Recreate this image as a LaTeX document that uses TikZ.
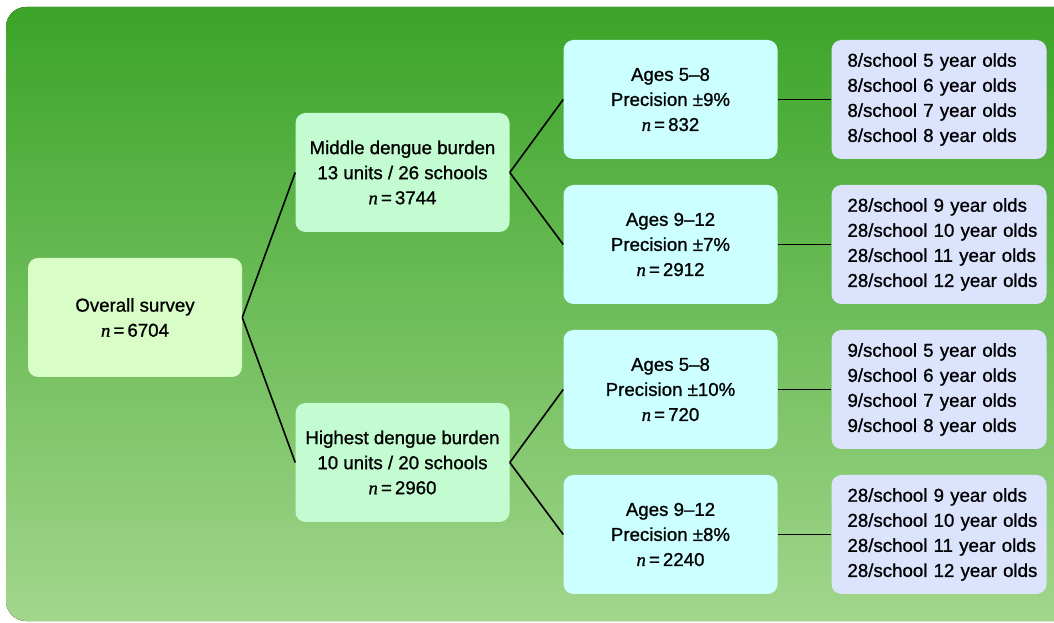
\documentclass[tikz,border=0pt]{standalone}
\usepackage{fontspec}
\usepackage{xcolor}
\usepackage{tikz}
\usetikzlibrary{shapes.geometric, calc}
\setmainfont[FakeBold=1]{Liberation Sans}
\newfontfamily\nserif[FakeBold=1]{Liberation Serif}
\newcommand{\nsize}[1]{{\nserif\itshape n}\,=\,#1}

\definecolor{bgtop}{HTML}{3BA428}
\definecolor{bgbottom}{HTML}{A2D68C}
\definecolor{overallfill}{HTML}{D9FDC7}
\definecolor{burdenfill}{HTML}{C4FCD2}
\definecolor{agesfill}{HTML}{CCFFFF}
\definecolor{schoolfill}{HTML}{DCE3FC}

\tikzset{
  box/.style={rectangle, rounded corners=7.5pt, minimum width=160.5pt,
    minimum height=89.25pt, align=center, inner sep=0pt,
    font=\fontsize{14}{18.8}\selectfont},
  overall/.style={box, fill=overallfill},
  burden/.style={box, fill=burdenfill},
  ages/.style={box, fill=agesfill},
  school/.style={box, fill=schoolfill, text width=161.25pt, align=left,
    execute at begin node={\leftskip=12pt}},
  link/.style={color=black, line width=1.2pt, -}
}

\begin{document}
\begin{tikzpicture}[x=0.75pt, y=-0.75pt]
\useasboundingbox (0,0) rectangle (1054,623);
\clip (0,0) rectangle (1054,623);
\fill[top color=bgtop, bottom color=bgbottom, rounded corners=15pt] (6,7) rectangle (1090,621);

\node[overall] (all) at (135, 317.5) {Overall survey\\ \nsize{6704}};
\node[burden] (mid) at (402.5, 172.5) {Middle dengue burden\\ 13 units / 26 schools\\ \nsize{3744}};
\node[burden] (high) at (402.5, 462.5) {Highest dengue burden\\ 10 units / 20 schools\\ \nsize{2960}};

\node[ages] (midA) at (670.5, 99.5) {Ages 5–8\\ Precision ±9\%\\ \nsize{832}};
\node[ages] (midB) at (670.5, 244.5) {Ages 9–12\\ Precision ±7\%\\ \nsize{2912}};
\node[ages] (highA) at (670.5, 389.5) {Ages 5–8\\ Precision ±10\%\\ \nsize{720}};
\node[ages] (highB) at (670.5, 534.5) {Ages 9–12\\ Precision ±8\%\\ \nsize{2240}};

\node[school] (midAs) at (939, 99.5) {8/school 5 year olds\\ 8/school 6 year olds\\ 8/school 7 year olds\\ 8/school 8 year olds};
\node[school] (midBs) at (939, 244.5) {28/school 9 year olds\\ 28/school 10 year olds\\ 28/school 11 year olds\\ 28/school 12 year olds};
\node[school] (highAs) at (939, 389.5) {9/school 5 year olds\\ 9/school 6 year olds\\ 9/school 7 year olds\\ 9/school 8 year olds};
\node[school] (highBs) at (939, 534.5) {28/school 9 year olds\\ 28/school 10 year olds\\ 28/school 11 year olds\\ 28/school 12 year olds};

\draw (all.east) edge[link] (mid.west);
\draw (all.east) edge[link] (high.west);
\draw (mid.east) edge[link] (midA.west);
\draw (mid.east) edge[link] (midB.west);
\draw (high.east) edge[link] (highA.west);
\draw (high.east) edge[link] (highB.west);
\draw (midA) edge[link] (midAs);
\draw (midB) edge[link] (midBs);
\draw (highA) edge[link] (highAs);
\draw (highB) edge[link] (highBs);
\end{tikzpicture}
\end{document}
